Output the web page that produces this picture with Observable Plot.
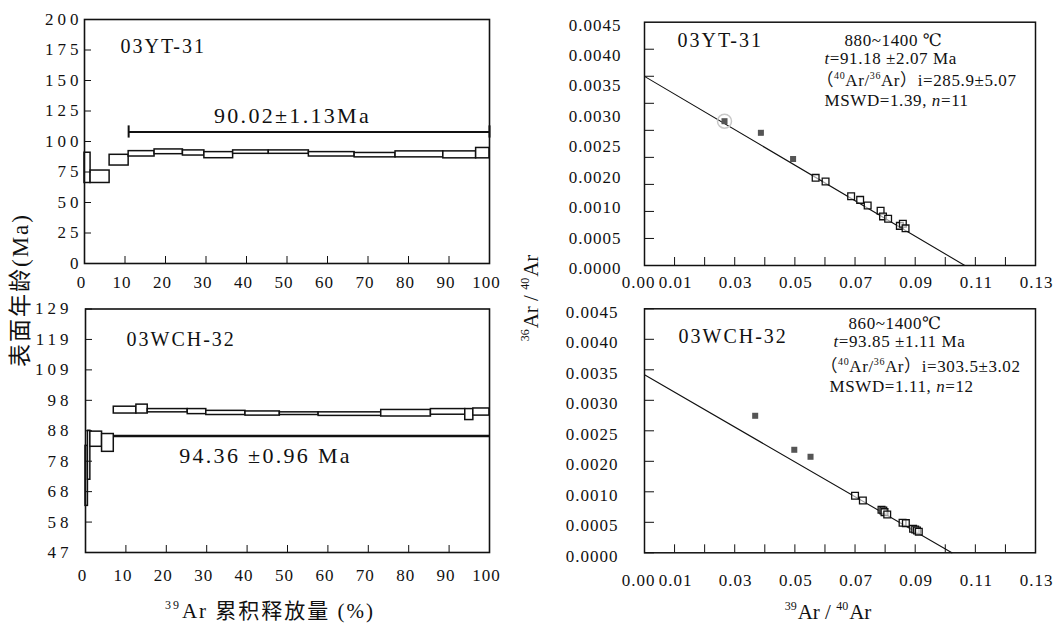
<!DOCTYPE html>
<html><head><meta charset="utf-8">
<script src="https://cdn.jsdelivr.net/npm/d3@7"></script>
<script src="https://cdn.jsdelivr.net/npm/@observablehq/plot@0.6"></script>
<style>
body{margin:0;background:#fff;}
#wrap{position:relative;width:1060px;height:625px;background:#fff;overflow:hidden;font-family:"Liberation Serif","DejaVu Serif","Noto Sans CJK SC",serif;color:#111;}
.panel{position:absolute;}
.ttl{position:absolute;white-space:nowrap;font-size:21px;line-height:1;}
.ttl sup{font-size:12px;vertical-align:0;position:relative;top:-9px;margin-right:1px;}
#tl g[aria-label="y-axis tick label"], #bl g[aria-label="y-axis tick label"]{letter-spacing:4px;}
#tl g[aria-label="x-axis tick label"], #bl g[aria-label="x-axis tick label"]{letter-spacing:1px;}
#tr g[aria-label$="tick label"], #br g[aria-label$="tick label"]{letter-spacing:1px;}
</style></head><body>
<div id="wrap">
  <div id="tl" class="panel" style="left:0;top:0"></div>
  <div id="bl" class="panel" style="left:0;top:290px"></div>
  <div id="tr" class="panel" style="left:520px;top:0"></div>
  <div id="br" class="panel" style="left:520px;top:290px"></div>
  <div class="ttl" style="left:20px;top:290px;font-size:23px;letter-spacing:2px;transform:translate(-50%,-50%) rotate(-90deg)">表面年龄(Ma)</div>
  <div class="ttl" style="left:531px;top:298px;transform:translate(-50%,-50%) rotate(-90deg)"><sup>36</sup>Ar / <sup>40</sup>Ar</div>
  <div class="ttl" style="left:270px;top:611px;transform:translate(-50%,-50%);letter-spacing:2px"><sup>39</sup>Ar 累积释放量 (%)</div>
  <div class="ttl" style="left:828px;top:612px;transform:translate(-50%,-50%)"><sup>39</sup>Ar / <sup>40</sup>Ar</div>
</div>
<script>
const FONT = '"Liberation Serif","DejaVu Serif","Noto Sans CJK SC",serif';
const INK = "#111";

// ---------- 03YT-31 age spectrum (cumulative 39Ar %, apparent age Ma) ----------
const ytStepFrom = [0, 1.5, 6.2, 10.9, 17.3, 24.3, 29.6, 36.7, 45.5, 55.4, 66.7, 76.8, 88.6, 96.7];
const ytStepTo   = [1.5, 6.2, 10.9, 17.3, 24.3, 29.6, 36.7, 45.5, 55.4, 66.7, 76.8, 88.6, 96.7, 100];
const ytAgeLow   = [66.0, 66.0, 80.3, 87.7, 89.6, 88.5, 86.3, 89.9, 89.9, 87.7, 87.0, 87.0, 86.2, 86.2];
const ytAgeHigh  = [90.8, 76.2, 89.1, 92.1, 93.5, 92.7, 91.3, 92.7, 92.7, 91.3, 90.6, 91.9, 91.9, 94.7];
const ytPlateauFrom = 10.9, ytPlateauTo = 100, ytPlateauLevel = 107.8;
const ytPlateauText = "90.02±1.13Ma";
const ytAgeTicks = [0, 25, 50, 75, 100, 125, 150, 175, 200];

// ---------- 03WCH-32 age spectrum ----------
const wchStepFrom = [0, 0.6, 1.2, 4.1, 7.0, 12.6, 15.4, 25.3, 29.9, 39.6, 48.1, 57.7, 73.2, 85.5, 94.0, 96.0];
const wchStepTo   = [0.6, 1.2, 4.1, 7.0, 12.6, 15.4, 25.3, 29.9, 39.6, 48.1, 57.7, 73.2, 85.5, 94.0, 96.0, 100];
const wchAgeLow   = [62.7, 71.5, 82.6, 80.9, 93.8, 93.8, 94.2, 93.6, 93.3, 93.1, 93.3, 93.0, 92.8, 93.4, 91.6, 93.1];
const wchAgeHigh  = [82.9, 88.0, 87.7, 86.9, 96.1, 96.8, 95.3, 95.3, 94.7, 94.5, 94.2, 94.2, 95.0, 95.3, 95.3, 95.5];
const wchPlateauFrom = 7.0, wchPlateauTo = 100, wchPlateauLevel = 86.2;
const wchPlateauText = "94.36 ±0.96 Ma";
const wchAgeMin = 47, wchAgeMax = 129;
const wchAgeLabels = ["47", "58", "68", "78", "88", "98", "109", "119", "129"];

const pctTicks = [0, 10, 20, 30, 40, 50, 60, 70, 80, 90, 100];

// ---------- 03YT-31 inverse isochron (39Ar/40Ar, 36Ar/40Ar) ----------
const ytIsoX = [0.0569, 0.0602, 0.0687, 0.0717, 0.0742, 0.0785, 0.0793, 0.0810, 0.0849, 0.0859, 0.0868];
const ytIsoY = [0.001621, 0.001553, 0.001280, 0.001214, 0.001110, 0.001013, 0.000908, 0.000863, 0.000733, 0.000771, 0.000687];
const ytExclX = [0.0266, 0.0387, 0.0494];
const ytExclY = [0.002669, 0.002454, 0.001970];
const ytYIntercept = 0.003498, ytXIntercept = 0.1065;
const ytNotes = ["880~1400 ℃", "*t*=91.18 ±2.07 Ma", "（^40^Ar/^36^Ar）i=285.9±5.07", "MSWD=1.39, *n*=11"];

// ---------- 03WCH-32 inverse isochron ----------
const wchIsoX = [0.0700, 0.0726, 0.0788, 0.0794, 0.0798, 0.0807, 0.0858, 0.0869, 0.0893, 0.0900, 0.0906, 0.0912];
const wchIsoY = [0.001051, 0.000965, 0.000793, 0.000781, 0.000750, 0.000707, 0.000553, 0.000547, 0.000443, 0.000430, 0.000412, 0.000390];
const wchExclX = [0.0368, 0.0498, 0.0552];
const wchExclY = [0.002527, 0.001900, 0.001771];
const wchYIntercept = 0.003283, wchXIntercept = 0.1022;
const wchNotes = ["860~1400℃", "*t*=93.85 ±1.11 Ma", "（^40^Ar/^36^Ar）i=303.5±3.02", "MSWD=1.11, *n*=12"];

const isoXMax = 0.13, isoYMax = 0.0045;
const isoXLabels = ["0.00", "0.01", "0.03", "0.05", "0.07", "0.09", "0.11", "0.13"];
const isoYLabels = ["0.0000", "0.0005", "0.0010", "0.0020", "0.0025", "0.0030", "0.0035", "0.0040", "0.0045"];

// ---------- helpers ----------
const zip = (a, b) => a.map((v, i) => ({x: v, y: b[i]}));
const steps = (from, to, lo, hi) => from.map((f, i) => ({x1: f, x2: to[i], y1: lo[i], y2: hi[i]}));
const style = {fontFamily: FONT, fontSize: "17px", color: INK, background: "transparent", overflow: "visible"};

function rich(svg) {
  const NS = "http://www.w3.org/2000/svg";
  for (const t of svg.querySelectorAll("text")) {
    const g = t.closest("[font-size]");
    const fs = g ? parseFloat(g.getAttribute("font-size")) : 0;
    if (fs >= 19) t.setAttribute("letter-spacing", fs >= 22 ? "2.3" : "2");
    else if (fs === 17) t.setAttribute("letter-spacing", "0.6");
    const s = t.textContent;
    if (!/[*^]/.test(s)) continue;
    const parts = s.split(/(\*[^*]+\*|\^[^^]+\^)/).filter(p => p !== "");
    t.textContent = "";
    let raised = false;
    for (const p of parts) {
      const ts = document.createElementNS(NS, "tspan");
      if (p[0] === "^") {
        ts.textContent = p.slice(1, -1);
        ts.setAttribute("font-size", "10");
        if (!raised) ts.setAttribute("dy", "-7");
        raised = true;
      } else {
        if (p[0] === "*") { ts.textContent = p.slice(1, -1); ts.setAttribute("font-style", "italic"); }
        else ts.textContent = p;
        if (raised) { ts.setAttribute("dy", "7"); raised = false; }
      }
      t.appendChild(ts);
    }
  }
}

function spectrum(o) {
  return Plot.plot({
    width: 520, height: 300,
    marginLeft: o.m[0], marginRight: o.m[1], marginTop: o.m[2], marginBottom: o.m[3],
    x: {domain: [0, 100]}, y: {domain: o.yDomain},
    style,
    marks: [
      Plot.rect(o.data, {x1: "x1", x2: "x2", y1: "y1", y2: "y2", fill: "white", stroke: INK, strokeWidth: 1.5}),
      Plot.ruleY([o.level], {x1: o.from, x2: o.to, stroke: INK, strokeWidth: o.lineW}),
      o.caps ? Plot.ruleX([o.from, o.to], {y1: o.level - o.caps, y2: o.level + o.caps, stroke: INK, strokeWidth: 2}) : null,
      Plot.axisX(pctTicks, {tickSize: -7, fill: "none", label: null}),
      Plot.axisX(pctTicks, {tickSize: 0, stroke: "none", tickPadding: o.xPad, dx: -3, label: null, fill: INK}),
      Plot.axisY(o.yTicks, {tickSize: -7, fill: "none", label: null}),
      Plot.axisY(o.yTicks, {tickSize: 0, stroke: "none", tickPadding: o.yPad, tickFormat: o.yFormat, label: null, fill: INK}),
      Plot.frame({stroke: INK, strokeWidth: 1.6}),
      Plot.text([o.name], {frameAnchor: "top-left", dx: o.nameDx, dy: o.nameDy, textAnchor: "start", lineAnchor: "middle", fontSize: 20, fill: INK}),
      Plot.text([o.label], {frameAnchor: "top-left", dx: o.labelDx, dy: o.labelDy, textAnchor: "middle", lineAnchor: "middle", fontSize: 22, fill: INK})
    ]
  });
}

function isoPlot(o) {
  const xTickVals = d3.range(1, 13).map(i => i / 100);
  const xLabelVals = isoXLabels.map(Number);
  const yLabelVals = isoYLabels.map((_, i) => i * isoYMax / (isoYLabels.length - 1));
  const yLab = new Map(yLabelVals.map((v, i) => [v, isoYLabels[i]]));
  const xLab = new Map(xLabelVals.map((v, i) => [v, isoXLabels[i]]));
  const yTickVals = o.yTickVals === "labels" ? yLabelVals : o.yTickVals;
  return Plot.plot({
    width: 540, height: 300,
    marginLeft: o.m[0], marginRight: o.m[1], marginTop: o.m[2], marginBottom: o.m[3],
    x: {domain: [0, isoXMax]}, y: {domain: [0, isoYMax]},
    style,
    marks: [
      Plot.line([{x: 0, y: o.yInt}, {x: o.xInt, y: 0}], {x: "x", y: "y", stroke: INK, strokeWidth: 1.1}),
      o.circled ? Plot.dot([o.excl[0]], {x: "x", y: "y", r: 7, stroke: "#c8c8c8", strokeWidth: 1.5, fill: "none"}) : null,
      Plot.dot(o.excl, {x: "x", y: "y", symbol: "square", r: 3.4, fill: "#555", stroke: "none"}),
      Plot.dot(o.pts, {x: "x", y: "y", symbol: "square", r: 3.8, fill: "white", fillOpacity: 0.6, stroke: INK, strokeWidth: 1.3}),
      Plot.axisX(xTickVals, {tickSize: -8, fill: "none", label: null}),
      Plot.axisX(xLabelVals.slice(0, 1), {tickSize: 0, stroke: "none", tickPadding: o.xPad, dx: -6, tickFormat: d => xLab.get(d), label: null, fill: INK}),
      Plot.axisX(xLabelVals.slice(1), {tickSize: 0, stroke: "none", tickPadding: o.xPad, dx: 1, tickFormat: d => xLab.get(d), label: null, fill: INK}),
      Plot.axisY(yTickVals, {tickSize: -10, fill: "none", label: null}),
      Plot.axisY(yLabelVals, {tickSize: 0, stroke: "none", tickPadding: o.yPad, dy: o.yLabDy, tickFormat: d => yLab.get(d), label: null, fill: INK}),
      Plot.frame({stroke: INK, strokeWidth: 1.5}),
      Plot.text([o.name], {frameAnchor: "top-left", dx: o.nameDx, dy: o.nameDy, textAnchor: "start", lineAnchor: "middle", fontSize: 20, fill: INK}),
      ...o.notes.map((n, i) => Plot.text([n], {frameAnchor: "top-left", dx: o.notesDx[i], dy: o.notesDy[i], textAnchor: "start", lineAnchor: "middle", fontSize: 17, fill: INK}))
    ]
  });
}

const tl = spectrum({
  data: steps(ytStepFrom, ytStepTo, ytAgeLow, ytAgeHigh),
  from: ytPlateauFrom, to: ytPlateauTo, level: ytPlateauLevel, label: ytPlateauText,
  labelDx: 208, labelDy: 96, name: "03YT-31", nameDx: 36, nameDy: 27,
  yDomain: [0, 200], yTicks: ytAgeTicks, yFormat: d => String(d), yPad: 2, caps: 5, lineW: 2,
  m: [84, 31, 19, 37], xPad: 12
});

const wchTickVals = wchAgeLabels.map((_, i) => wchAgeMin + i * (wchAgeMax - wchAgeMin) / (wchAgeLabels.length - 1));
const wchLab = new Map(wchTickVals.map((v, i) => [v, wchAgeLabels[i]]));
const bl = spectrum({
  data: steps(wchStepFrom, wchStepTo, wchAgeLow, wchAgeHigh),
  from: wchPlateauFrom, to: wchPlateauTo, level: wchPlateauLevel, label: wchPlateauText,
  labelDx: 180, labelDy: 147, name: "03WCH-32", nameDx: 41, nameDy: 31,
  yDomain: [wchAgeMin, wchAgeMax], yTicks: wchTickVals, yFormat: d => wchLab.get(d), yPad: 13, caps: 0, lineW: 2.5,
  m: [85, 31, 18.5, 38], xPad: 16
});

const tr = isoPlot({
  pts: zip(ytIsoX, ytIsoY), excl: zip(ytExclX, ytExclY), circled: true,
  yInt: ytYIntercept, xInt: ytXIntercept,
  name: "03YT-31", nameDx: 33, nameDy: 18,
  notes: ytNotes, notesDx: [200, 180, 172, 180], notesDy: [18, 36, 58, 78],
  yTickVals: d3.range(1, 9).map(i => i * 0.0005), yLabDy: 3,
  m: [124, 25, 21.7, 35], xPad: 10, yPad: 23
});

const br = isoPlot({
  pts: zip(wchIsoX, wchIsoY), excl: zip(wchExclX, wchExclY), circled: false,
  yInt: wchYIntercept, xInt: wchXIntercept,
  name: "03WCH-32", nameDx: 34, nameDy: 28,
  notes: wchNotes, notesDx: [204, 189, 176, 185], notesDy: [15, 33, 58, 78],
  yTickVals: "labels", yLabDy: 3.5,
  m: [124, 25, 18.3, 37.7], xPad: 21, yPad: 26
});

document.getElementById("tl").appendChild(tl);
document.getElementById("bl").appendChild(bl);
document.getElementById("tr").appendChild(tr);
document.getElementById("br").appendChild(br);
[tl, bl, tr, br].forEach(rich);
</script>
</body></html>
